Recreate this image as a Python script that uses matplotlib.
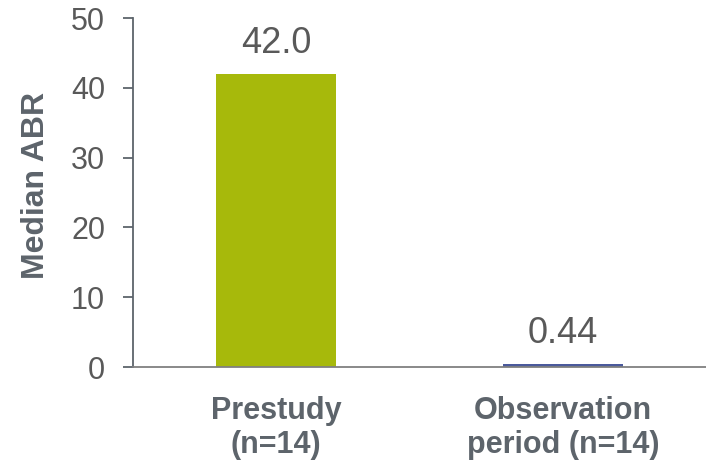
import matplotlib
matplotlib.use("Agg")
import matplotlib.pyplot as plt

plt.rcParams['font.family'] = ['Liberation Sans', 'DejaVu Sans']

categories = ["Prestudy\n(n=14)", "Observation\nperiod (n=14)"]
median_abr = [42.0, 0.44]
value_labels = ["42.0", "0.44"]
bar_colors = ["#a7b90b", "#4b5a9c"]
y_ticks = [0, 10, 20, 30, 40, 50]

axis_color = "#5d646b"
text_color = "#595959"

fig = plt.figure(figsize=(7.06, 4.68), dpi=100)
ax = fig.add_axes([0.1884, 0.2158, 0.8116, 0.7457])

x = range(len(categories))
bars = ax.bar(x, median_abr, width=0.42, color=bar_colors)

for b, lab in zip(bars, value_labels):
    ax.annotate(lab, (b.get_x() + b.get_width() / 2, b.get_height()),
                xytext=(0, 9), textcoords="offset points",
                ha="center", va="bottom", fontsize=26, color=text_color)

ax.set_xlim(-0.5, 1.5)
ax.set_ylim(0, 50)
ax.set_yticks(y_ticks)
ax.set_xticks(list(x))
ax.set_xticklabels(categories, fontsize=22, fontweight="bold", color=axis_color,
                   linespacing=1.18)
ax.tick_params(axis="y", labelsize=22, labelcolor=text_color, color=axis_color,
               length=7, width=1.3, pad=13)
ax.tick_params(axis="x", length=0, pad=21)

ax.set_ylabel("Median ABR", fontsize=23, fontweight="bold", color=axis_color)
ax.yaxis.set_label_coords(-0.143, 0.52)

for side in ("top", "right"):
    ax.spines[side].set_visible(False)
ax.spines["left"].set_color(axis_color)
ax.spines["left"].set_linewidth(1.3)
ax.spines["bottom"].set_color("#808080")
ax.spines["bottom"].set_linewidth(1.3)

fig.savefig("out.png", dpi=100)
